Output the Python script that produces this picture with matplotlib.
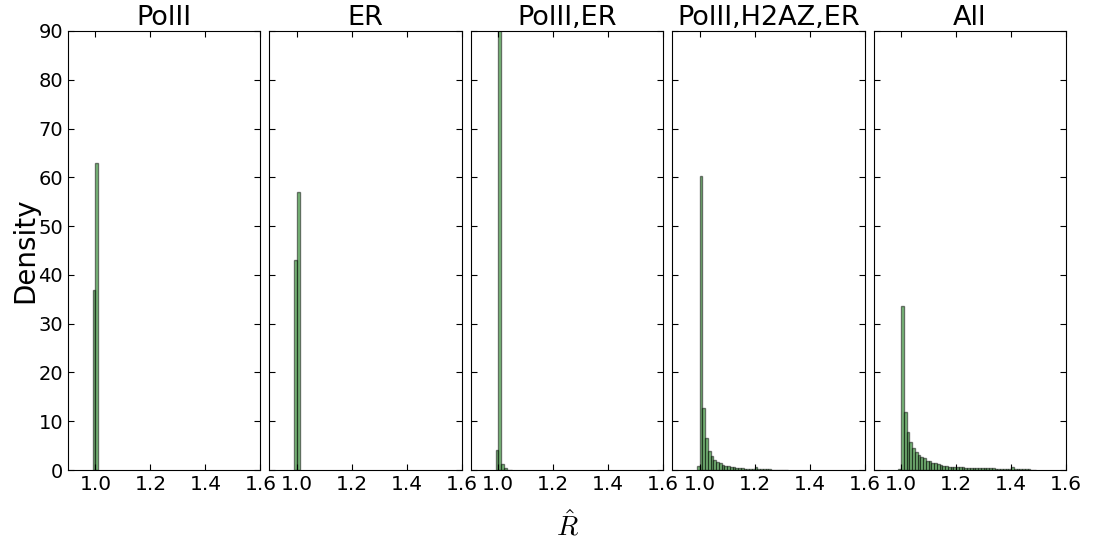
import numpy as np
import matplotlib
matplotlib.use('Agg')
from matplotlib import pyplot as plt

# histogram densities, bin width 0.01, first bin starting at bin_start
titles = ['PolII', 'ER', 'PolII,ER', 'PolII,H2AZ,ER', 'All']
bin_width = 0.01
bin_start = 0.99

polii = [37.0, 63.0]
er = [43.0, 57.0]
polii_er = [4.1, 94.2, 1.2, 0.35, 0.1, 0.05]
polii_h2az_er = [0.9, 60.2, 12.7, 6.6, 4.0, 2.9, 2.1, 1.7, 1.4, 1.1,
                 0.9, 0.75, 0.6, 0.55, 0.48, 0.4, 0.35, 0.3, 0.28, 0.25,
                 0.22, 0.55, 0.18, 0.16, 0.14, 0.12, 0.11, 0.1, 0.09, 0.08,
                 0.07, 0.06, 0.05]
all_marks = [0.2, 33.7, 11.95, 7.85, 5.8, 4.6, 3.75, 3.0, 2.7, 2.4,
             1.95, 1.9, 1.5, 1.4, 1.15, 1.0, 0.85, 0.8, 0.72, 0.66,
             0.62, 0.58, 0.55, 0.52, 0.5, 0.48, 0.46, 0.44, 0.42, 0.4,
             0.38, 0.36, 0.35, 0.33, 0.32, 0.3, 0.29, 0.28, 0.27, 0.26,
             0.25, 0.55, 0.22, 0.2, 0.18, 0.16, 0.14, 0.12, 0.1, 0.08]

series = [polii, er, polii_er, polii_h2az_er, all_marks]
xticks = [1.0, 1.2, 1.4, 1.6]
yticks = [0, 10, 20, 30, 40, 50, 60, 70, 80, 90]

plt.rcParams['mathtext.fontset'] = 'cm'
plt.rcParams['xtick.direction'] = 'in'
plt.rcParams['ytick.direction'] = 'in'
plt.rcParams['xtick.top'] = True
plt.rcParams['ytick.right'] = True
plt.rcParams['xtick.major.size'] = 4
plt.rcParams['ytick.major.size'] = 4

fig, axes = plt.subplots(1, 5, sharey=True, figsize=(10.93, 5.4), dpi=100)
fig.subplots_adjust(left=0.0622, right=0.9753, bottom=0.1296, top=0.9426, wspace=0.0466)

for ax, title, h in zip(axes, titles, series):
    h = np.array(h)
    lefts = bin_start + bin_width * np.arange(len(h))
    ax.bar(lefts, h, width=bin_width, align='edge', color='g', alpha=0.5,
           edgecolor='k', linewidth=1)
    ax.set_xlim(0.9, 1.6)
    ax.set_ylim(0, 90)
    ax.set_xticks(xticks)
    ax.set_xticklabels(['%.1f' % t for t in xticks], fontsize=14.5)
    ax.set_title(title, fontsize=19.5, pad=4)
    ax.tick_params(axis='y', labelsize=14)

axes[0].set_yticks(yticks)
for ax in axes[1:]:
    ax.tick_params(axis='y', labelleft=False)

fig.text(0.023, 0.536, 'Density', rotation=90, va='center', ha='center', fontsize=20)
fig.text(0.519, 0.025, r'$\hat{R}$', ha='center', va='center', fontsize=20)

fig.savefig('out.png', dpi=100)
